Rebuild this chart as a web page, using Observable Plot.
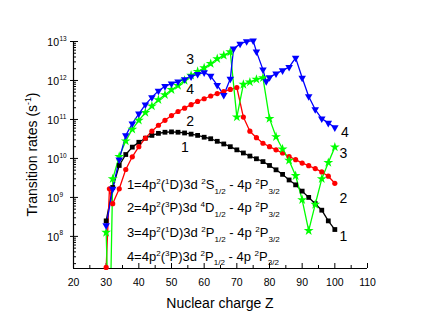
<!DOCTYPE html>
<html><head><meta charset="utf-8">
<script src="https://cdn.jsdelivr.net/npm/d3@7"></script>
<script src="https://cdn.jsdelivr.net/npm/@observablehq/plot@0.6"></script>
<style>
html,body{margin:0;padding:0;background:#fff;}
svg text{white-space:pre;}
</style>
</head><body><div id="chart"></div>
<script>
// ---- data (transition rates in s^-1) ----
const Z1 = [30,32,34,36,38,40,42,44,46,48,50,52,54,56,58,60,62,64,66,68,70,72,74,76,78,80,82,84,86,88,90,92,94,96,98,100];
const rate1 = [2.5e8,1.8e9,6.6e9,1.26e10,1.95e10,2.6e10,3.3e10,3.9e10,4.4e10,4.7e10,4.8e10,4.7e10,4.5e10,4.2e10,3.9e10,3.5e10,3.2e10,2.75e10,2.35e10,2.0e10,1.66e10,1.38e10,1.15e10,9.8e9,8.3e9,6.6e9,5.1e9,3.9e9,2.8e9,2.1e9,1.45e9,1.0e9,6.9e8,4.7e8,2.5e8,1.5e8];

const Z2 = [30,31,32,34,36,38,40,42,44,46,48,50,52,54,56,58,60,62,64,66,68,70,72,74,76,78,80,82,84,86,88,90,92,94,96,98,100];
const rate2 = [1.6e7,1.66e9,6.9e8,1.66e9,5.2e9,1.1e10,2.0e10,3.3e10,5.0e10,7.1e10,9.5e10,1.26e11,1.6e11,1.95e11,2.4e11,2.9e11,3.4e11,4.0e11,4.6e11,5.2e11,5.9e11,6.6e11,1.15e11,5.0e10,3.4e10,2.45e10,2.0e10,1.66e10,1.38e10,1.12e10,9.3e9,7.6e9,6.5e9,5.5e9,4.5e9,3.5e9,2.3e9];

const Z3 = [30,31,32,34,36,38,40,42,44,46,48,50,52,54,56,58,60,62,64,66,68,70,72,74,76,78,80,82,84,86,88,90,92,94,96,98,100];
const rate3 = [1.26e8,1e5,3.0e9,1.12e10,2.8e10,5.6e10,9.5e10,1.5e11,2.2e11,3.2e11,4.3e11,5.8e11,7.4e11,1.0e12,1.35e12,1.7e12,2.1e12,2.7e12,3.6e12,4.4e12,5.4e12,1.15e11,7.9e11,9.1e11,1.07e12,1.17e12,1.05e11,3.6e10,1.74e10,8.9e9,3.6e9,8.7e8,1.4e8,6.6e8,3.0e9,7.8e9,1.95e10];

const Z4 = [30,32,34,36,38,40,42,44,46,48,50,52,54,56,58,60,62,64,66,68,69,71,73,75,76,78,79,80,82,84,86,88,90,92,94,96,98,100];
const rate4 = [1.9e8,1.66e9,9.3e9,3.9e10,7.8e10,1.4e11,2.4e11,3.7e11,5.4e11,7.1e11,8.3e11,9.3e11,1.07e12,1.26e12,1.45e12,1.6e12,1.3e12,7.6e11,4.2e11,1.1e12,6.5e12,8.7e12,1.0e13,1.05e13,5.5e12,1.9e12,9.5e11,1.2e12,1.5e12,1.8e12,2.2e12,3.8e12,1.17e12,3.9e11,1.8e11,1.05e11,8.1e10,6.2e10];

// curve number labels
const curveLabels = ["1","2","3","4","4","3","2","1"];
const curveLabelZ = [54.1,55.7,55.7,55.7,103.1,102.6,102.6,102.6];
const curveLabelRate = [1.9e10,8.9e10,3.5e12,5.9e11,4.7e10,1.32e10,9.3e8,1.0e8];

// legend text parts: [text, kind]
const legendLines = [
  [["1=4p",""],["2","sup"],["(",""],["1","sup"],["D)3d ",""],["2","sup"],["S",""],["1/2","sub"],[" - 4p ",""],["2","sup"],["P",""],["3/2","sub"]],
  [["2=4p",""],["2","sup"],["(",""],["3","sup"],["P)3d ",""],["4","sup"],["D",""],["1/2","sub"],[" - 4p ",""],["2","sup"],["P",""],["3/2","sub"]],
  [["3=4p",""],["2","sup"],["(",""],["1","sup"],["D)3d ",""],["2","sup"],["P",""],["1/2","sub"],[" - 4p ",""],["2","sup"],["P",""],["3/2","sub"]],
  [["4=4p",""],["2","sup"],["(",""],["3","sup"],["P)3d ",""],["2","sup"],["P",""],["1/2","sub"],[" - 4p ",""],["2","sup"],["P",""],["3/2","sub"]]
];
const legendZ = 36.5;
const legendRate = [1.55e9, 4.0e8, 9.1e7, 2.24e7];

const xTicks = [20,30,40,50,60,70,80,90,100,110];
const xMinorTicks = [25,35,45,55,65,75,85,95,105];
const yDecades = [1e8,1e9,1e10,1e11,1e12,1e13];
const yDomain = [1.5e7, 1e13];
const xTitle = "Nuclear charge Z";
const yTitle = [["Transition rates (s",""],["-1","sup"],[")",""]];

// ---- build ----
const yMinor = [];
for (let e = 7; e <= 12; e++) for (let m = 2; m <= 9; m++) { const v = m * 10 ** e; if (v >= yDomain[0] && v <= yDomain[1]) yMinor.push(v); }
const rows = (Z, r) => Z.map((z, i) => ({Z: z, rate: r[i]}));
const s1 = rows(Z1, rate1), s2 = rows(Z2, rate2), s3 = rows(Z3, rate3), s4 = rows(Z4, rate4);
const labels = curveLabels.map((t, i) => ({t, Z: curveLabelZ[i], rate: curveLabelRate[i]}));

const font = "Liberation Sans, Arial, Helvetica, sans-serif";
const chart = Plot.plot({
  width: 427, height: 327,
  marginLeft: 73, marginRight: 60, marginTop: 41, marginBottom: 59,
  x: {domain: [20, 110]},
  y: {type: "log", domain: yDomain},
  style: {fontFamily: font, fontSize: "10.5px", color: "black", background: "white"},
  marks: [
    Plot.ruleX([20], {stroke: "black", strokeWidth: 1.2}),
    Plot.ruleY([yDomain[0]], {stroke: "black", strokeWidth: 1.2}),
    Plot.axisX(xTicks, {tickSize: -5, fill: "none", label: null}),
    Plot.axisX(xMinorTicks, {tickSize: -3, fill: "none", label: null}),
    Plot.axisX(xTicks, {tickSize: 0, tickPadding: 10, label: null, fontSize: 10.5}),
    Plot.axisY(yDecades, {tickSize: -5, fill: "none", label: null}),
    Plot.axisY(yDecades, {tickSize: 3, fill: "none", label: null}),
    Plot.axisY(yMinor, {tickSize: -3, fill: "none", label: null}),
    Plot.text(yDecades, {y: d => d, frameAnchor: "left", text: () => "10", textAnchor: "end", dx: -14.5, dy: 1.5, fontSize: 10.5}),
    Plot.text(yDecades, {y: d => d, frameAnchor: "left", text: d => String(Math.round(Math.log10(d))), textAnchor: "start", dx: -14, dy: -3, fontSize: 6.5}),
    Plot.line(s1, {x: "Z", y: "rate", stroke: "black", strokeWidth: 1.3}),
    Plot.line(s2, {x: "Z", y: "rate", stroke: "red", strokeWidth: 1.3}),
    Plot.line(s3, {x: "Z", y: "rate", stroke: "#00ff00", strokeWidth: 1.3, clip: true}),
    Plot.line(s4, {x: "Z", y: "rate", stroke: "blue", strokeWidth: 1.3}),
    Plot.dot(s1, {x: "Z", y: "rate", symbol: "square", r: 2.7, fill: "black", stroke: "none"}),
    Plot.dot(s2, {x: "Z", y: "rate", symbol: "circle", r: 2.6, fill: "red", stroke: "none"}),
    Plot.dot(s3.filter(d => d.rate >= yDomain[0]), {x: "Z", y: "rate", symbol: "star", r: 3.1, fill: "#00ff00", stroke: "none"}),
    Plot.dot(s4, {x: "Z", y: "rate", symbol: "triangle", rotate: 180, r: 2.8, fill: "blue", stroke: "none"}),
    Plot.text(labels, {x: "Z", y: "rate", text: "t", fontSize: 14})
  ]
});
document.getElementById("chart").appendChild(chart);

const svg = d3.select(chart);
const sx = chart.scale("x"), sy = chart.scale("y");
function richText(sel, parts, size) {
  let cur = 0;
  for (const [s, kind] of parts) {
    const off = kind === "sup" ? -0.4 * size : kind === "sub" ? 0.32 * size : 0;
    sel.append("tspan").attr("dy", off - cur).attr("font-size", kind ? size * 0.62 : size).text(s);
    cur = off;
  }
}
const g = svg.append("g").attr("font-family", font).attr("fill", "black").attr("text-anchor", "start");
legendLines.forEach((parts, i) => {
  const t = g.append("text").attr("x", sx.apply(legendZ)).attr("y", sy.apply(legendRate[i])).attr("font-size", 13).attr("text-anchor", "start");
  richText(t, parts, 13);
});
const [x0, x1] = sx.range, [y0, y1] = sy.range;
g.append("text").attr("x", (x0 + x1) / 2).attr("y", 308).attr("text-anchor", "middle").attr("font-size", 14).text(xTitle);
const yt = g.append("text").attr("transform", `translate(37,${(y0 + y1) / 2}) rotate(-90)`).attr("text-anchor", "middle").attr("font-size", 14);
richText(yt, yTitle, 14);
</script>
</body></html>
